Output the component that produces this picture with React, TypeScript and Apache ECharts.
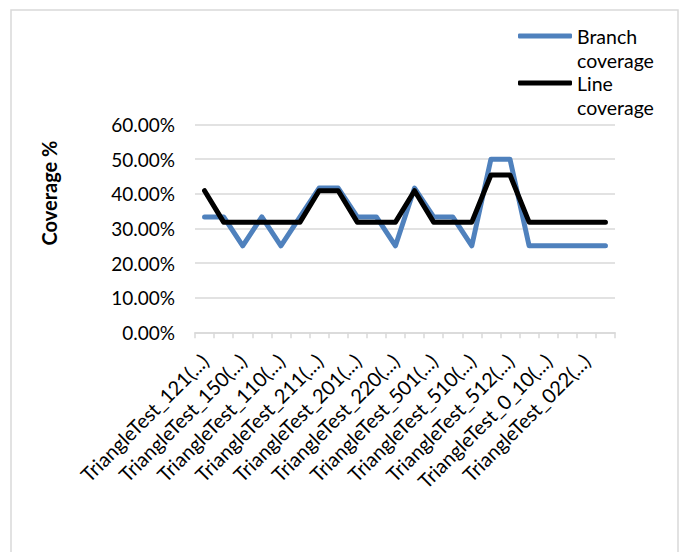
import React, { useEffect, useRef } from "react";
import * as echarts from "echarts";

const categories = [
  "TriangleTest_121(...)",
  "TriangleTest_112(...)",
  "TriangleTest_150(...)",
  "TriangleTest_105(...)",
  "TriangleTest_110(...)",
  "TriangleTest_101(...)",
  "TriangleTest_211(...)",
  "TriangleTest_121b(...)",
  "TriangleTest_201(...)",
  "TriangleTest_210(...)",
  "TriangleTest_220(...)",
  "TriangleTest_202(...)",
  "TriangleTest_501(...)",
  "TriangleTest_150b(...)",
  "TriangleTest_510(...)",
  "TriangleTest_105b(...)",
  "TriangleTest_512(...)",
  "TriangleTest_0_01(...)",
  "TriangleTest_0_10(...)",
  "TriangleTest_00_1(...)",
  "TriangleTest_022(...)",
  "TriangleTest_000(...)",
];

const branchCoverage = [
  33.33, 33.33, 25, 33.33, 25, 33.33, 41.67, 41.67, 33.33, 33.33, 25,
  41.67, 33.33, 33.33, 25, 50, 50, 25, 25, 25, 25, 25,
];

const lineCoverage = [
  40.91, 31.82, 31.82, 31.82, 31.82, 31.82, 40.91, 40.91, 31.82, 31.82, 31.82,
  40.91, 31.82, 31.82, 31.82, 45.45, 45.45, 31.82, 31.82, 31.82, 31.82, 31.82,
];

const seriesNames = ["Branch coverage", "Line coverage"];
const yTicks = { min: 0, max: 60, interval: 10 };

const FONT = "Lato, 'Open Sans', sans-serif";

export default function App() {
  const ref = useRef<HTMLDivElement>(null);
  useEffect(() => {
    document.body.style.margin = "0";
    if (!ref.current) return;
    const chart = echarts.init(ref.current, null, { renderer: "svg" });
    chart.setOption({
      animation: false,
      backgroundColor: "#fff",
      textStyle: { fontFamily: FONT },
      grid: { left: 195, right: 71, top: 124.6, bottom: 219.7, containLabel: false },
      legend: {
        orient: "vertical",
        left: 518,
        top: 0,
        padding: 0,
        itemGap: -25,
        itemWidth: 54,
        itemHeight: 5,
        icon: "roundRect",
        formatter: (n: string) => " \n" + n.replace(" ", "\n"),
        textStyle: {
          fontFamily: FONT,
          fontSize: 19.5,
          lineHeight: 24,
          color: "#000",
        },
        data: seriesNames,
      },
      xAxis: {
        type: "category",
        data: categories,
        boundaryGap: true,
        axisLine: { lineStyle: { color: "#D9D9D9", width: 1.5 } },
        axisTick: { show: true, interval: 0, length: 6, lineStyle: { color: "#D9D9D9", width: 1.5 } },
        axisLabel: {
          interval: 1,
          rotate: 45,
          fontFamily: FONT,
          fontSize: 20,
          color: "#000",
          margin: 25,
        },
        splitLine: { show: false },
      },
      yAxis: {
        type: "value",
        min: yTicks.min,
        max: yTicks.max,
        interval: yTicks.interval,
        axisLine: { show: false },
        axisTick: { show: false },
        axisLabel: {
          formatter: (v: number) => v.toFixed(2) + "%",
          fontFamily: FONT,
          fontSize: 19,
          color: "#000",
          margin: 20,
        },
        splitLine: { lineStyle: { color: "#D9D9D9", width: 1.5 } },
      },
      series: [
        {
          type: "line",
          name: seriesNames[0],
          data: branchCoverage,
          symbol: "none",
          color: "#4F81BD",
          lineStyle: { width: 5, color: "#4F81BD", cap: "round", join: "round" },
        },
        {
          type: "line",
          name: seriesNames[1],
          data: lineCoverage,
          symbol: "none",
          color: "#000000",
          lineStyle: { width: 5, color: "#000000", cap: "round", join: "round" },
        },
      ],
      graphic: [
        {
          type: "rect",
          shape: { x: 11, y: 10, width: 667, height: 600 },
          style: { fill: "none", stroke: "#D9D9D9", lineWidth: 1.5 },
          silent: true,
          z: -1,
        },
        {
          type: "text",
          x: 49,
          y: 193,
          rotation: Math.PI / 2,
          style: {
            text: "Coverage %",
            fontFamily: FONT,
            fontSize: 20,
            fontWeight: "bold",
            fill: "#000",
            align: "center",
            verticalAlign: "middle",
          },
        },
      ],
    });
    return () => chart.dispose();
  }, []);
  return <div ref={ref} style={{ width: 686, height: 552 }} />;
}
